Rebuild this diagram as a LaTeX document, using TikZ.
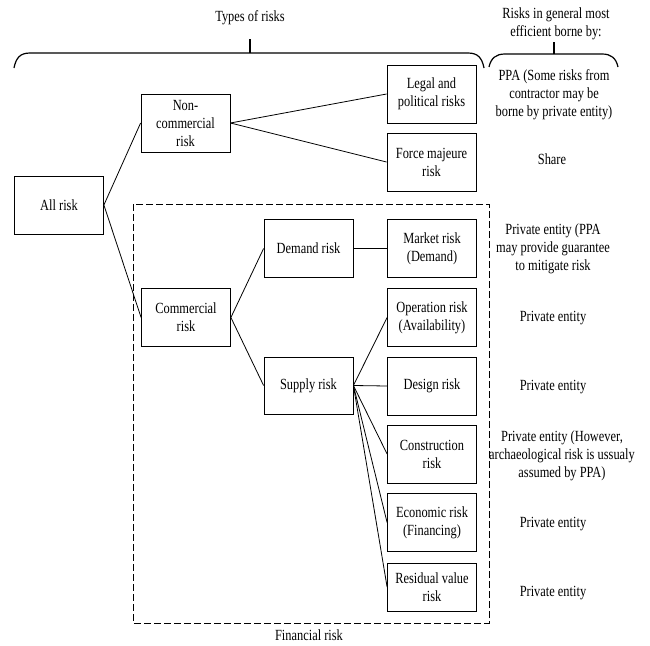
\documentclass[tikz,border=0pt]{standalone}
\usepackage{fontspec}
\setmainfont{Liberation Serif}[FakeStretch=0.8]
\begin{document}
\begin{tikzpicture}[x=1pt,y=-1pt,
  txt/.style={font=\fontsize{15.5}{18}\selectfont, align=center, inner sep=0pt},
  rbox/.style={txt, draw, line width=0.8pt, minimum width=89pt, minimum height=58pt},
  link/.style={line width=0.8pt},
  brace/.style={line width=1.2pt},
  fin/.style={line width=0.8pt, dash pattern=on 7pt off 3pt}]
\useasboundingbox (0,0) rectangle (650,645);
% headings
\node[txt] (types) at (250,18) {Types of risks};
\node[txt] (borne) at (556,24) {Risks in general most\\efficient borne by:};
% braces
\draw[brace] (14,68) .. controls (16,58) and (20,53) .. (30,53) -- (468,53) .. controls (478,53) and (482,58) .. (484,68);
\draw[brace] (250,53) -- (250,39);
\draw[brace] (489,67) .. controls (491,58) and (496,54) .. (505,54) -- (602,54) .. controls (611,54) and (616,58) .. (618,67);
\draw[brace] (554,54) -- (554,42);
% financial risk region
\draw[fin] (133,204) rectangle (489,623);
\node[txt] (finlabel) at (309,635) {Financial risk};
% boxes
\node[rbox] (all) at (59,205) {All risk};
\node[rbox] (noncomm) at (185.5,123) {Non-\\commercial\\risk};
\node[rbox] (comm) at (186,317.5) {Commercial\\risk};
\node[rbox] (legal) at (431.5,94) {Legal and\\political risks};
\node[rbox] (force) at (431.5,162) {Force majeure\\risk};
\node[rbox] (demand) at (308.5,248.5) {Demand risk};
\node[rbox, minimum height=57pt] (supply) at (308.5,385.5) {Supply risk};
\node[rbox] (market) at (432,248.5) {Market risk\\(Demand)};
\node[rbox] (oper) at (432,317.5) {Operation risk\\(Availability)};
\node[rbox] (design) at (432,386) {Design risk};
\node[rbox] (constr) at (432,454) {Construction\\risk};
\node[rbox] (econ) at (432,522.5) {Economic risk\\(Financing)};
\node[rbox, minimum height=48pt] (resid) at (432,587) {Residual value\\risk};
% right-hand column
\node[txt] (r1) at (554,95) {PPA (Some risks from\\contractor may be\\borne by private entity)};
\node[txt] (r2) at (552,159) {Share};
\node[txt] (r3) at (553,249) {Private entity (PPA\\may provide guarantee\\to mitigate risk};
\node[txt] (r4) at (553,318) {Private entity};
\node[txt] (r5) at (553,387) {Private entity};
\node[txt] (r6) at (562,456) {Private entity (However,\\archaeological risk is ussualy\\assumed by PPA)};
\node[txt] (r7) at (553,524) {Private entity};
\node[txt] (r8) at (553,593) {Private entity};
% connectors
\draw[link] (all.east) -- (noncomm.west);
\draw[link] (all.east) -- (comm.west);
\draw[link] (noncomm.east) -- (legal.west);
\draw[link] (noncomm.east) -- (force.west);
\draw[link] (comm.east) -- (demand.west);
\draw[link] (comm.east) -- (supply.west);
\draw[link] (demand.east) -- (market.west);
\foreach \t in {oper,design,constr,econ,resid}
  \draw[link] (supply.east) -- (\t.west);
\end{tikzpicture}
\end{document}
